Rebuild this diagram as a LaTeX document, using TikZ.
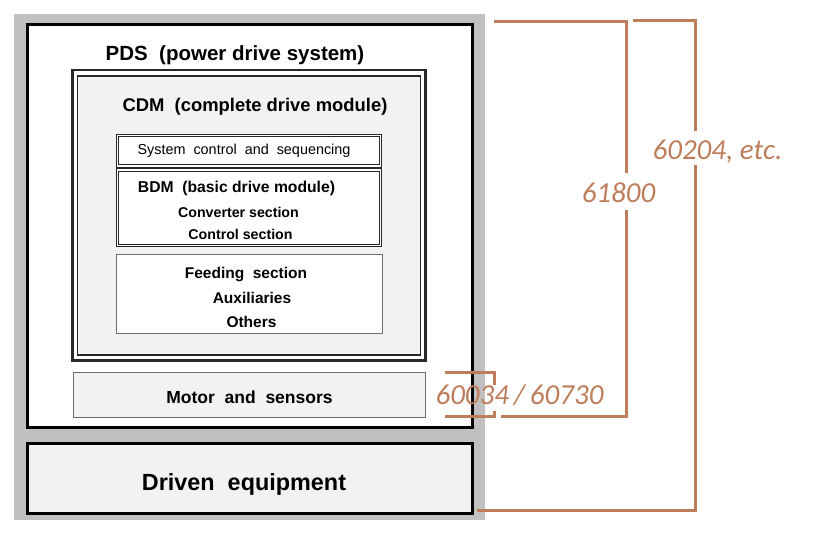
\documentclass[tikz,border=0pt]{standalone}
\usepackage{fontspec}
\setmainfont{Liberation Sans}
\newfontfamily\labelfont{Carlito}
\definecolor{bggray}{RGB}{192,192,192}
\definecolor{boxfill}{RGB}{242,242,242}
\definecolor{brown}{RGB}{190,125,90}
\definecolor{thingray}{RGB}{110,110,110}
\definecolor{darkline}{RGB}{40,40,40}
\tikzset{
  bigbox/.style={draw=black, line width=3pt, inner sep=0pt},
  thinbox/.style={draw=thingray, line width=0.9pt, inner sep=0pt},
  dblouter/.style={draw=darkline, line width=0.9pt, fill=white},
  dblinner/.style={draw=darkline, line width=0.9pt},
  txt/.style={inner sep=0pt, anchor=base, text=black},
  bracket/.style={draw=brown, line width=3pt},
  std/.style={text=brown, inner sep=0pt, font=\labelfont\itshape\fontsize{29}{29}\selectfont},
}
\begin{document}
\begin{tikzpicture}[x=1pt,y=-1pt]
\useasboundingbox (0,0) rectangle (815,540);
% background
\fill[bggray] (14,14) rectangle (485,520);
% PDS box
\draw[bigbox, fill=white] (27,25) rectangle (472,428);
\node (pds) [txt, font=\bfseries\fontsize{20.5}{20.5}\selectfont] at (235,61) {PDS~~(power drive system)};
% CDM double box
\draw[draw=darkline, line width=2.8pt, fill=white] (72.5,70) rectangle (425.5,360.5);
\draw[draw=darkline, line width=1.6pt, fill=boxfill] (77.5,76) rectangle (420.5,355);
\node (cdm) [txt, font=\bfseries\fontsize{18.4}{18.4}\selectfont] at (255,112) {CDM~~(complete drive module)};
% System control
\draw[dblouter] (116,134) rectangle (381.5,167);
\draw[dblinner] (118.5,136.5) rectangle (379,164.5);
\node (systxt) [txt, font=\fontsize{14.4}{14.4}\selectfont] at (244,155) {System~~control~~and~~sequencing};
% BDM
\draw[dblouter] (116,168.5) rectangle (381.5,246.5);
\draw[dblinner] (118.5,171) rectangle (379,244);
\node (bdmtxt) [txt, font=\bfseries\fontsize{15.7}{15.7}\selectfont] at (236.5,193) {BDM~~(basic drive module)};
\node (conv) [txt, font=\bfseries\fontsize{14.2}{14.2}\selectfont] at (238.5,217.5) {Converter section};
\node (ctrl) [txt, font=\bfseries\fontsize{14.2}{14.2}\selectfont] at (240.5,240) {Control section};
% Feeding
\node (feed) [thinbox, fill=white, minimum width=266pt, minimum height=79pt] at (249,293.5) {};
\node (feedtxt) [txt, font=\bfseries\fontsize{15.5}{15.5}\selectfont] at (246,278.5) {Feeding~~section};
\node (aux) [txt, font=\bfseries\fontsize{15.5}{15.5}\selectfont] at (252,304) {Auxiliaries};
\node (oth) [txt, font=\bfseries\fontsize{15.5}{15.5}\selectfont] at (251.5,328) {Others};
% Motor
\node (motor) [thinbox, fill=boxfill, minimum width=352pt, minimum height=45pt] at (249,394.5) {};
\node (motortxt) [txt, font=\bfseries\fontsize{17.5}{17.5}\selectfont] at (249.5,403) {Motor~~and~~sensors};
% Driven equipment
\node (driven) [bigbox, fill=boxfill, minimum width=445pt, minimum height=70pt] at (249.5,478.5) {};
\node (driventxt) [txt, font=\bfseries\fontsize{23.4}{23.4}\selectfont] at (244,490) {Driven~~equipment};
% brackets
\coordinate (a1) at (494,22);
\coordinate (a2) at (626,173);
\coordinate (a3) at (626,210);
\coordinate (a4) at (501,417);
\coordinate (b1) at (633,21);
\coordinate (b2) at (695,131);
\coordinate (b3) at (695,165);
\coordinate (b4) at (477,510);
\coordinate (c1) at (445,373);
\coordinate (c2) at (494,385);
\coordinate (c3) at (494,411);
\coordinate (c4) at (445,417);
\draw[bracket] (a1) -| (a2);
\draw[bracket] (a3) |- (a4);
\draw[bracket] (b1) -| (b2);
\draw[bracket] (b3) |- (b4);
\draw[bracket] (c1) -| (c2);
\draw[bracket] (c3) |- (c4);
\node (l618) [std, anchor=base] at (618.5,203) {61800};
\node (l602) [std, anchor=base] at (717.5,160) {60204, etc.};
\node (l600) [std, anchor=base] at (519.5,405) {60034\,/\,60730};
\end{tikzpicture}
\end{document}
